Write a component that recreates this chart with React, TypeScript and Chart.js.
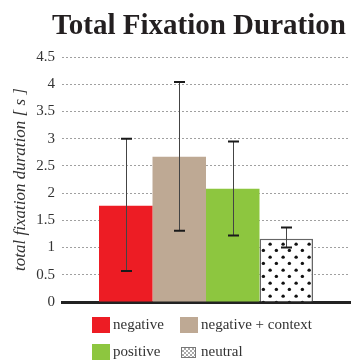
import React, { useEffect, useRef } from "react";
import { Chart, registerables } from "chart.js";

Chart.register(...registerables);

const chartTitle = "Total Fixation Duration";
const yAxisTitle = "total fixation duration [ s ]";
const categories = [""];
const seriesLabels = ["negative", "negative + context", "positive", "neutral"];
const meanValues = [1.77, 2.67, 2.08, 1.16];
const errorLow = [0.57, 1.31, 1.22, 1.0];
const errorHigh = [3.0, 4.04, 2.95, 1.37];
const yTicks = [0, 0.5, 1, 1.5, 2, 2.5, 3, 3.5, 4, 4.5];
const seriesColors = ["#ED1C24", "#BEA994", "#8DC63F", "pattern"];

function makeDotPattern(ctx: CanvasRenderingContext2D, size: number, r: number) {
  const c = document.createElement("canvas");
  c.width = size;
  c.height = size;
  const g = c.getContext("2d")!;
  g.fillStyle = "#ffffff";
  g.fillRect(0, 0, size, size);
  g.fillStyle = "#111111";
  g.beginPath();
  g.arc(size * 0.25, size * 0.25, r, 0, Math.PI * 2);
  g.fill();
  g.beginPath();
  g.arc(size * 0.75, size * 0.75, r, 0, Math.PI * 2);
  g.fill();
  return ctx.createPattern(c, "repeat")!;
}

export default function App() {
  const ref = useRef<HTMLCanvasElement>(null);
  useEffect(() => {
    document.body.style.margin = "0";
    const canvas = ref.current!;
    const ctx = canvas.getContext("2d")!;
    const bigPattern = makeDotPattern(ctx, 13.5, 1.7);
    const smallPattern = makeDotPattern(ctx, 4, 0.7);
    const fills = seriesColors.map((c) => (c === "pattern" ? bigPattern : c));

    const errorBars = {
      id: "errorBars",
      afterDatasetsDraw(chart: any) {
        const c = chart.ctx;
        const y = chart.scales.y;
        c.save();
        chart.data.datasets.forEach((_: any, i: number) => {
          const bar = chart.getDatasetMeta(i).data[0];
          const x = Math.round(bar.x) + 0.5;
          const yTop = y.getPixelForValue(errorHigh[i]);
          const yBot = y.getPixelForValue(errorLow[i]);
          c.strokeStyle = "#444";
          c.lineWidth = 1;
          c.beginPath();
          c.moveTo(x, yTop);
          c.lineTo(x, yBot);
          c.stroke();
          c.strokeStyle = "#1a1a1a";
          c.lineWidth = 2;
          c.beginPath();
          c.moveTo(x - 5.5, yTop);
          c.lineTo(x + 5.5, yTop);
          c.moveTo(x - 5.5, yBot);
          c.lineTo(x + 5.5, yBot);
          c.stroke();
        });
        c.restore();
      },
    };

    const customDraw = {
      id: "customDraw",
      afterDraw(chart: any) {
        const c = chart.ctx;
        c.save();
        c.fillStyle = "#231f20";
        c.font = "bold 29px 'Liberation Serif'";
        c.textAlign = "center";
        c.textBaseline = "alphabetic";
        c.fillText(chartTitle, 199, 34);
        const cols = [92, 180];
        const rows = [317, 344];
        c.font = "15px 'Liberation Serif'";
        c.textAlign = "left";
        c.textBaseline = "middle";
        seriesLabels.forEach((label, i) => {
          const bx = cols[i % 2];
          const by = rows[Math.floor(i / 2)];
          if (seriesColors[i] === "pattern") {
            c.fillStyle = smallPattern;
            c.fillRect(bx + 1, by + 3, 15, 11);
            c.strokeStyle = "#777";
            c.lineWidth = 1;
            c.strokeRect(bx + 1.5, by + 3.5, 14, 10);
          } else {
            c.fillStyle = seriesColors[i];
            c.fillRect(bx, by, 18, 16);
          }
          c.fillStyle = "#333";
          c.fillText(label, bx + 21, by + 8.5);
        });
        c.restore();
      },
    };

    const chart = new Chart(canvas, {
      type: "bar",
      data: {
        labels: categories,
        datasets: seriesLabels.map((label, i) => ({
          label,
          data: [meanValues[i]],
          backgroundColor: fills[i],
          borderColor: seriesColors[i] === "pattern" ? "#666" : fills[i],
          borderWidth: seriesColors[i] === "pattern" ? 1.5 : 0,
          barPercentage: 1,
          categoryPercentage: 0.743,
        })),
      },
      options: {
        animation: false,
        responsive: false,
        layout: { padding: { top: 57, bottom: 60, right: 8, left: 0 } },
        plugins: {
          legend: { display: false },
          title: { display: false },
          tooltip: { enabled: false },
        },
        scales: {
          x: {
            grid: { display: false, drawTicks: false },
            ticks: { display: false },
            border: { display: true, color: "#222", width: 3 },
            afterFit: (s: any) => {
              s.height = 0;
            },
          },
          y: {
            min: 0,
            max: 4.5,
            afterBuildTicks: (s: any) => {
              s.ticks = yTicks.map((v) => ({ value: v }));
            },
            ticks: {
              padding: 7,
              color: "#333",
              font: { family: "'Liberation Serif'", size: 15 },
              callback: (v: any) => String(v),
            },
            grid: {
              color: "#a0a0a0",
              lineWidth: 1,
              drawTicks: false,
            },
            border: { display: true, color: "rgba(0,0,0,0)", width: 0, dash: [2, 2] },
            title: {
              display: true,
              text: yAxisTitle,
              color: "#333",
              font: { family: "'Liberation Serif'", size: 17, style: "italic" },
              padding: { top: 10, bottom: 0 },
            },
            afterFit: (s: any) => {
              s.width = 62;
            },
          },
        },
      },
      plugins: [errorBars, customDraw],
    });
    return () => chart.destroy();
  }, []);
  return <canvas ref={ref} width={358} height={362} style={{ display: "block" }} />;
}
